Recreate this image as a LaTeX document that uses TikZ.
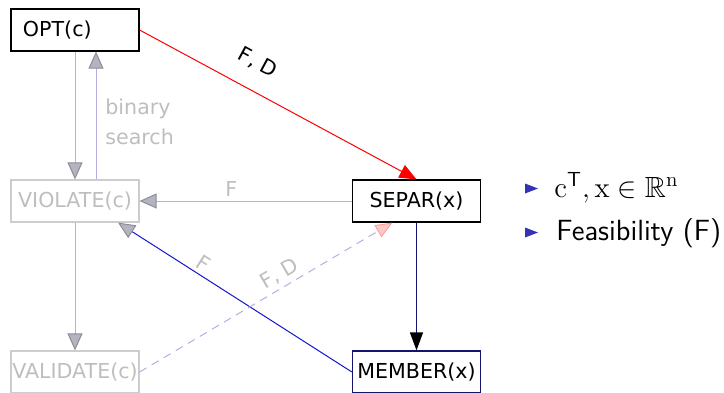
\documentclass[tikz,border=0pt]{standalone}
\usepackage{fontspec}
\usepackage{amssymb}
\newfontfamily\dv{DejaVu Sans}
\usetikzlibrary{arrows.meta,calc}
\definecolor{lineblue}{RGB}{180,175,225}
\definecolor{tipfill}{RGB}{180,180,190}
\definecolor{tipedge}{RGB}{140,140,155}
\definecolor{fadetext}{RGB}{190,190,190}
\definecolor{fadeborder}{RGB}{205,205,205}
\definecolor{navyc}{RGB}{20,20,110}
\definecolor{blueline}{RGB}{20,20,210}
\definecolor{bulletblue}{RGB}{51,51,179}
\definecolor{palered}{RGB}{255,200,200}
\definecolor{paleredge}{RGB}{255,160,160}
\begin{document}
\begin{tikzpicture}[x=0.5pt,y=-0.5pt,
  box/.style={draw, line width=0.6pt, minimum width=64pt, minimum height=21pt, inner sep=0pt,
    font=\dv\fontsize{10.3}{12}\selectfont},
  faded/.style={draw=fadeborder, text=fadetext},
  lbl/.style={font=\dv\fontsize{10.3}{12}\selectfont, inner sep=2pt, text=black},
  fadelbl/.style={lbl, text=fadetext},
  lite/.style={draw=lineblue, line width=0.5pt},
  graytip/.style={-{Triangle[length=8.5pt,width=7.5pt,color=tipedge,fill=tipfill]}},
  redtip/.style={-{Triangle[length=8.5pt,width=7pt,color=red,fill=red]}},
  paletip/.style={-{Triangle[length=8.5pt,width=7pt,color=paleredge,fill=palered]}},
  blacktip/.style={-{Triangle[length=9pt,width=6.5pt,color=black,fill=black]}},
  bul/.style={font=\fontsize{14.6}{17}\selectfont\sffamily, anchor=base west, inner sep=0pt}
]
\useasboundingbox (0,0) rectangle (724,392);

\node[box, text width=52pt, align=left, inner xsep=6pt] (opt) at (75,30) {OPT(c)};
\node[box,faded] (vio) at (75,201) {VIOLATE(c)};
\node[box,faded] (val) at (75,372) {VALIDATE(c)};
\node[box] (sep) at (416.5,201) {SEPAR(x)};
\node[box,draw=navyc] (mem) at (416.5,372) {MEMBER(x)};

% OPT <-> VIOLATE
\draw[lite,graytip] (opt.south) -- (vio.north);
\draw[lite,graytip] ($(vio.north)+(21,0)$) -- ($(opt.south)+(21,0)$);
\node[fadelbl, anchor=base west, inner sep=0pt] (bin) at (105,114) {binary};
\node[fadelbl, anchor=base west, inner sep=0pt] (srch) at (105,144) {search};

% VIOLATE -> VALIDATE
\draw[lite,graytip] (vio.south) -- (val.north);

% OPT -> SEPAR
\draw[red, line width=0.5pt, redtip] (opt.east) -- node[pos=0.38, sloped, above=7pt, lbl] {F, D} (sep.north);

% SEPAR -> VIOLATE
\draw[lite,graytip] (sep.west) -- node[pos=0.568, above, fadelbl] {F} (vio.east);

% MEMBER -> VIOLATE
\draw[blueline, line width=0.5pt, graytip] (mem.west) -- node[pos=0.66, sloped, above, fadelbl] {F} ($(vio.south)+(43,0)$);

% VALIDATE -> SEPAR
\draw[lite, dashed, dash pattern=on 4pt off 3pt, paletip] (val.east) -- node[pos=0.58, sloped, above, fadelbl] {F, D} ($(sep.south)+(-24,0)$);

% SEPAR -> MEMBER
\draw[navyc, line width=0.6pt, blacktip] (sep.south) -- (mem.north);

% bullets
\fill[bulletblue] (525,183.5) -- (538,188.5) -- (525,193.5) -- cycle;
\node[bul] (b1) at (554,197) {$\mathrm{c}^{\mathsf{T}}, \mathrm{x} \in \mathbb{R}^{\mathrm{n}}$};
\fill[bulletblue] (525,227.5) -- (538,232.5) -- (525,237.5) -- cycle;
\node[bul] (b2) at (556,240) {Feasibility (F)};
\end{tikzpicture}
\end{document}
